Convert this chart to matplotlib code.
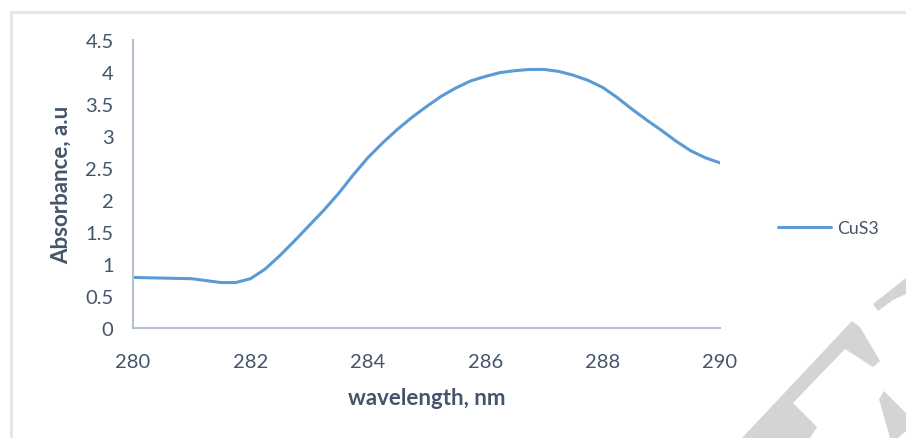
import matplotlib
matplotlib.use("Agg")
import matplotlib.pyplot as plt
from matplotlib.patches import Polygon
from matplotlib.lines import Line2D

wavelength = [280.0, 280.5, 281.0, 281.25, 281.5, 281.75, 282.0, 282.25, 282.5, 282.75,
              283.0, 283.25, 283.5, 283.75, 284.0, 284.25, 284.5, 284.75, 285.0, 285.25,
              285.5, 285.75, 286.0, 286.25, 286.5, 286.75, 287.0, 287.25, 287.5, 287.75,
              288.0, 288.25, 288.5, 288.75, 289.0, 289.25, 289.5, 289.75, 290.0]
absorbance = [0.79, 0.78, 0.77, 0.74, 0.71, 0.71, 0.77, 0.92, 1.13, 1.36,
              1.60, 1.84, 2.10, 2.39, 2.66, 2.89, 3.10, 3.29, 3.46, 3.62,
              3.75, 3.86, 3.93, 3.99, 4.02, 4.04, 4.04, 4.01, 3.95, 3.87,
              3.76, 3.60, 3.42, 3.25, 3.09, 2.92, 2.77, 2.66, 2.58]
series_name = "CuS3"
x_ticks = [280, 282, 284, 286, 288, 290]
y_ticks = [0, 0.5, 1, 1.5, 2, 2.5, 3, 3.5, 4, 4.5]
y_ticklabels = ["0", "0.5", "1", "1.5", "2", "2.5", "3", "3.5", "4", "4.5"]

W, H = 906, 439
fig = plt.figure(figsize=(W / 100, H / 100), dpi=100)
fig.patch.set_facecolor("white")
plt.rcParams["font.family"] = ["Lato", "DejaVu Sans"]
text_color = "#44546a"
axis_color = "#b4bfcf"

# outer light frame
fig.add_artist(Line2D([10.5 / W, 10.5 / W], [0, 1 - 12.5 / H], transform=fig.transFigure,
                      color="#e1e5ec", lw=2))
fig.add_artist(Line2D([10.5 / W, 1], [1 - 12.5 / H, 1 - 12.5 / H], transform=fig.transFigure,
                      color="#e1e5ec", lw=2))

ax = fig.add_axes([133 / W, 1 - 329 / H, (720 - 133) / W, (329 - 41) / H])
ax.plot(wavelength, absorbance, color="#5b9bd5", lw=2.2, label=series_name,
        solid_joinstyle="round", solid_capstyle="round")
ax.set_xlim(280, 290)
ax.set_ylim(0, 4.5)
ax.set_xticks(x_ticks)
ax.set_xticklabels([str(t) for t in x_ticks])
ax.set_yticks(y_ticks)
ax.set_yticklabels(y_ticklabels)
for s in ["top", "right"]:
    ax.spines[s].set_visible(False)
for s in ["left", "bottom"]:
    ax.spines[s].set_color(axis_color)
    ax.spines[s].set_linewidth(1.5)
ax.tick_params(length=0, labelsize=14.5, colors=text_color)
ax.tick_params(axis="y", pad=14)
ax.tick_params(axis="x", pad=18)
ax.set_xlabel("wavelength, nm", fontsize=16, fontweight="bold", color=text_color, labelpad=12)
ax.set_ylabel("Absorbance, a.u", fontsize=16, fontweight="bold", color=text_color, labelpad=10)

leg = fig.legend(loc="center left", bbox_to_anchor=(762 / W, 1 - 229 / H), frameon=False,
                 fontsize=12.8, handlelength=3.0, handletextpad=0.35, labelcolor=text_color)

# watermark shapes (light gray)
wm = "#d4d4d4"
polys = [
    [(873, 305), (906, 279), (906, 295), (893, 301), (878, 312)],
    [(852, 322), (860, 328), (880, 362), (873, 368), (845, 350), (793, 404), (817, 428),
     (810, 439), (742, 439)],
    [(884, 392), (906, 414), (906, 432), (898, 439), (890, 439), (879, 400)],
]
for p in polys:
    fig.add_artist(Polygon([(x / W, 1 - y / H) for x, y in p], closed=True,
                           transform=fig.transFigure, facecolor=wm, edgecolor="none"))

fig.savefig("out.png", dpi=100, facecolor="white")
